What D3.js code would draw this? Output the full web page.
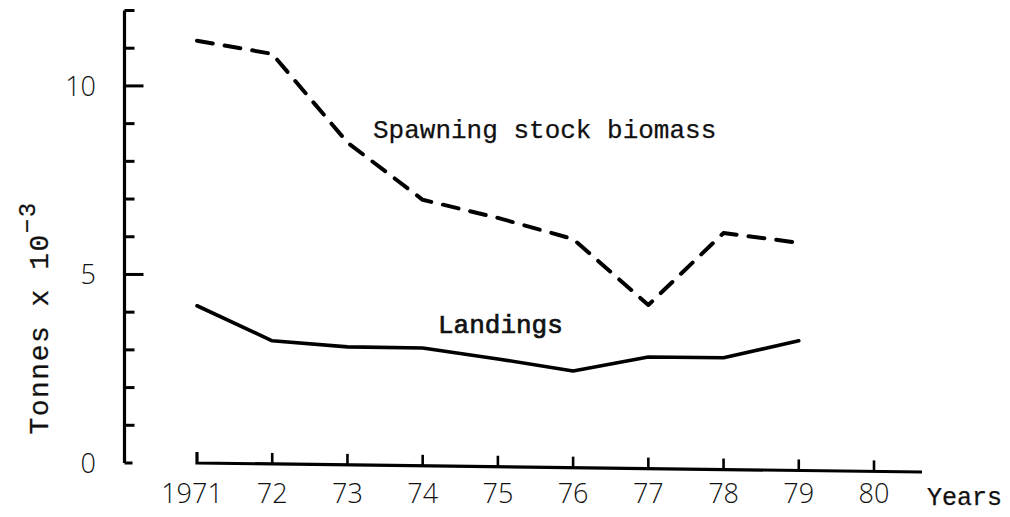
<!DOCTYPE html>
<html>
<head>
<meta charset="utf-8">
<script src="https://cdn.jsdelivr.net/npm/d3@7/dist/d3.min.js"></script>
<style>
  html, body { margin: 0; padding: 0; background: #fff; }
  svg { display: block; }
  .num { font-family: "Open Sans", "Liberation Sans", sans-serif; font-weight: 300; font-size: 27px; fill: #111; }
  .typ { font-family: "Liberation Mono", "DejaVu Sans Mono", monospace; font-size: 26px; fill: #111; stroke: #111; stroke-width: 0.25px; }
</style>
</head>
<body>
<script>
// ---- data ----
const years = [1971, 1972, 1973, 1974, 1975, 1976, 1977, 1978, 1979];
const spawningStock = [11.2, 10.85, 8.5, 6.98, 6.5, 5.94, 4.19, 6.1, 5.84];
const landings = [4.17, 3.24, 3.08, 3.05, 2.76, 2.44, 2.81, 2.79, 3.24];
const xTickYears = [1971, 1972, 1973, 1974, 1975, 1976, 1977, 1978, 1979, 1980];
const xTickLabels = ["1971", "72", "73", "74", "75", "76", "77", "78", "79", "80"];
const yTicks = [0, 1, 2, 3, 4, 5, 6, 7, 8, 9, 10, 11, 12];
const yTickLabels = { 0: "0", 5: "5", 10: "10" };

const W = 1010, H = 517;
const svg = d3.select("body").append("svg").attr("width", W).attr("height", H);

const x = d3.scaleLinear().domain([1971, 1980]).range([197, 874]);
const y = d3.scaleLinear().domain([0, 12]).range([463, 10.5]);

const axisX0 = 124.5;
const slant = 9 / 725; // slight downward tilt of hand-drawn x axis
const baseY = px => y(0) + (px - x(1971)) * slant;

// ---- y axis ----
svg.append("line").attr("x1", axisX0).attr("x2", axisX0)
  .attr("y1", y(12)).attr("y2", y(0))
  .attr("stroke", "#000").attr("stroke-width", 3.2);
svg.selectAll(".ytick").data(yTicks).enter().append("line")
  .attr("x1", axisX0).attr("y1", d => y(d)).attr("y2", d => y(d))
  .attr("x2", d => axisX0 + (yTickLabels[d] && d !== 0 ? 19 : (d === 0 ? 8 : 10)))
  .attr("stroke", "#000").attr("stroke-width", 3);
svg.selectAll(".ylab").data(yTicks.filter(d => yTickLabels[d])).enter().append("text")
  .attr("class", "num").attr("text-anchor", "end")
  .attr("x", 96).attr("y", d => y(d)).attr("dy", "0.36em")
  .text(d => yTickLabels[d]);

// y axis title (rotated)
const yt = svg.append("text").attr("class", "typ")
  .attr("transform", "translate(48,318) rotate(-90)")
  .attr("text-anchor", "middle").style("font-size", "28px").style("letter-spacing", "1.5px");
yt.append("tspan").text("Tonnes x 10");
yt.append("tspan").attr("dy", -13).style("font-size", "24px").text("\u22123");

// ---- x axis (slightly tilted baseline, upward ticks) ----
const xEnd = 922;
svg.append("path")
  .attr("d", `M${x(1971)},${baseY(x(1971)) - 11}L${x(1971)},${baseY(x(1971))}L${xEnd},${baseY(xEnd)}`)
  .attr("fill", "none").attr("stroke", "#000").attr("stroke-width", 3.2);
svg.selectAll(".xtick").data(xTickYears.slice(1)).enter().append("line")
  .attr("x1", d => x(d)).attr("x2", d => x(d))
  .attr("y1", d => baseY(x(d))).attr("y2", d => baseY(x(d)) - 11)
  .attr("stroke", "#000").attr("stroke-width", 2.6);
svg.selectAll(".xlab").data(xTickYears).enter().append("text")
  .attr("class", "num").attr("text-anchor", "middle")
  .attr("x", (d, i) => x(d) - (i === 0 ? 5 : 0)).attr("y", 503)
  .text((d, i) => xTickLabels[i]);
svg.append("text").attr("class", "typ").attr("x", 927).attr("y", 505)
  .style("font-size", "25px").text("Years");

// ---- series ----
const line = d3.line().x((d, i) => x(years[i])).y(d => y(d));
svg.append("path").datum(spawningStock).attr("d", line)
  .attr("fill", "none").attr("stroke", "#000").attr("stroke-width", 4)
  .attr("stroke-linejoin", "round").attr("stroke-linecap", "round")
  .attr("stroke-dasharray", "16,12");
svg.append("path").datum(landings).attr("d", line)
  .attr("fill", "none").attr("stroke", "#000").attr("stroke-width", 3.6)
  .attr("stroke-linejoin", "round").attr("stroke-linecap", "round");

// ---- series labels ----
svg.append("text").attr("class", "typ").attr("x", 373).attr("y", 138)
  .text("Spawning stock biomass");
svg.append("text").attr("class", "typ").attr("x", 438).attr("y", 333)
  .style("stroke-width", "0.7px").text("Landings");
</script>
</body>
</html>
